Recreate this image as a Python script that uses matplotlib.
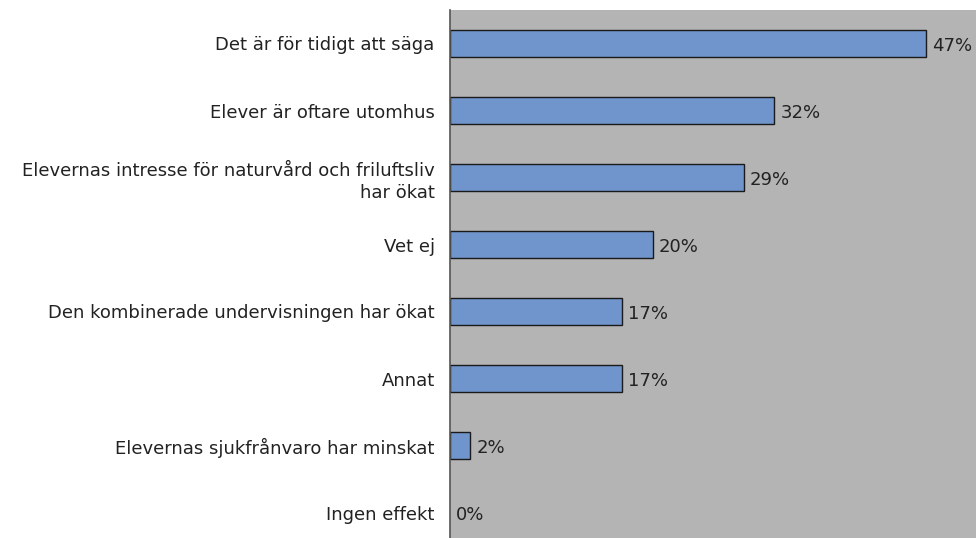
import matplotlib.pyplot as plt

kategorier = [
    "Det är för tidigt att säga",
    "Elever är oftare utomhus",
    "Elevernas intresse för naturvård och friluftsliv\nhar ökat",
    "Vet ej",
    "Den kombinerade undervisningen har ökat",
    "Annat",
    "Elevernas sjukfrånvaro har minskat",
    "Ingen effekt",
]
andelar = [47, 32, 29, 20, 17, 17, 2, 0]

fig = plt.figure(figsize=(9.76, 5.38), dpi=100)
# axes run slightly past the bottom edge, as in the original
ax = fig.add_axes([450 / 976, -8 / 538, 1 - 450 / 976, 536 / 538])
ax.set_facecolor("#b4b4b4")

pos = list(range(len(kategorier)))
kant = [1 if v > 0 else 0 for v in andelar]
ax.barh(pos, andelar, height=0.40, color="#7094cc", edgecolor="#1a1a1a", linewidth=kant)

for p, v in zip(pos, andelar):
    ax.text(v + 0.6, p + 0.03, f"{v}%", va="center", ha="left", fontsize=13, color="#222222")

ax.set_xlim(0, 51.9)
ax.set_ylim(len(kategorier) - 0.5, -0.5)
ax.set_yticks(pos)
ax.set_yticklabels(kategorier, fontsize=13, color="#222222", ha="right", linespacing=1.35)
ax.tick_params(axis="y", length=0, pad=11)
ax.set_xticks([])
for s in ["top", "right", "bottom"]:
    ax.spines[s].set_visible(False)
ax.spines["left"].set_color("#555555")
ax.spines["left"].set_linewidth(1.2)

fig.savefig("out.png", dpi=100)
